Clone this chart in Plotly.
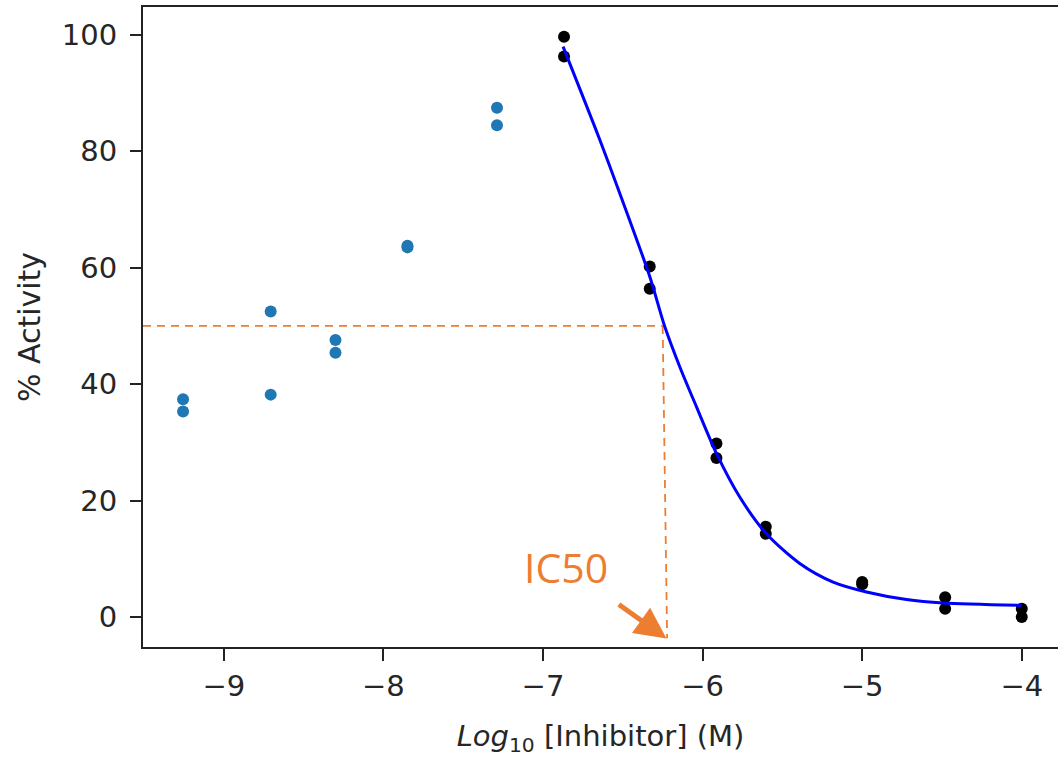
import plotly.graph_objects as go

# ---- data ----
inactive_x = [-9.255, -9.255, -8.706, -8.706, -8.30, -8.30, -7.849, -7.849, -7.288, -7.288]
inactive_y = [37.4, 35.3, 52.5, 38.2, 47.6, 45.4, 63.5, 63.8, 87.5, 84.5]

active_x = [-6.868, -6.868, -6.331, -6.331, -5.913, -5.913, -5.604, -5.604,
            -5.0, -5.0, -4.48, -4.48, -4.0, -4.0]
active_y = [99.7, 96.3, 60.2, 56.4, 29.8, 27.3, 15.5, 14.3,
            6.0, 5.6, 3.4, 1.4, 1.4, 0.0]

fit_x = [-6.874, -6.644, -6.519, -6.331, -6.237, -6.143, -6.038, -5.913, -5.767,
         -5.600, -5.391, -5.182, -4.973, -4.722, -4.493, -4.0]
fit_y = [98.0, 82.0, 72.8, 58.5, 49.9, 43.0, 36.1, 28.1, 20.6,
         14.3, 9.2, 6.0, 4.3, 3.0, 2.4, 2.0]

half_activity = 50
ic50_top_x = -6.25
ic50_bottom_x = -6.222
ic50_bottom_y = -3.66

label_x, label_y = -6.855, 8.6
arrow_tip_x, arrow_tip_y = -6.226, -3.7

x_range = [-9.506, -3.773]
y_range = [-5.16, 104.8]
x_ticks = [-9, -8, -7, -6, -5, -4]
y_ticks = [0, 20, 40, 60, 80, 100]

orange = "#ED7D31"

fig = go.Figure()

# dashed guide lines
fig.add_trace(go.Scatter(x=[x_range[0], ic50_top_x], y=[half_activity, half_activity],
                         mode="lines", line=dict(color=orange, width=1.8, dash="8px,6px"),
                         hoverinfo="skip", showlegend=False))
fig.add_trace(go.Scatter(x=[ic50_top_x, ic50_bottom_x], y=[half_activity, ic50_bottom_y],
                         mode="lines", line=dict(color=orange, width=1.8, dash="8px,6px"),
                         hoverinfo="skip", showlegend=False, cliponaxis=False))

fig.add_trace(go.Scatter(x=inactive_x, y=inactive_y, mode="markers",
                         marker=dict(color="#1f77b4", size=12), showlegend=False))
fig.add_trace(go.Scatter(x=active_x, y=active_y, mode="markers",
                         marker=dict(color="black", size=12), showlegend=False))
fig.add_trace(go.Scatter(x=fit_x, y=fit_y, mode="lines",
                         line=dict(color="blue", width=3, shape="spline", smoothing=0.8),
                         showlegend=False))

# IC50 label with arrow pointing at the IC50 on the x axis
fig.add_annotation(x=arrow_tip_x, y=arrow_tip_y, ax=label_x, ay=label_y,
                   xref="x", yref="y", axref="x", ayref="y",
                   text="IC50", showarrow=True,
                   font=dict(family="Open Sans", size=41, color=orange),
                   arrowhead=2, arrowsize=1.25, arrowwidth=5, arrowcolor=orange,
                   standoff=0, startstandoff=14)

axis_font = dict(family="DejaVu Sans", size=29, color="#262626")

fig.update_layout(
    width=1058, height=757,
    margin=dict(l=143, r=0, t=7, b=110),
    paper_bgcolor="white", plot_bgcolor="white",
    showlegend=False,
    xaxis=dict(range=x_range, tickvals=x_ticks, ticks="outside", ticklen=12, tickwidth=2,
               tickcolor="#222", showline=True, linecolor="#222", linewidth=2, mirror=True,
               showgrid=False, zeroline=False, tickfont=axis_font,
               title=dict(text="<i>Log</i><sub>10</sub> [Inhibitor] (M)",
                          font=dict(family="DejaVu Sans", size=29, color="#262626"),
                          standoff=24)),
    yaxis=dict(range=y_range, tickvals=y_ticks, ticks="outside", ticklen=11, tickwidth=2,
               tickcolor="#222", showline=True, linecolor="#222", linewidth=2, mirror=False,
               showgrid=False, zeroline=False, tickfont=axis_font, ticklabelstandoff=7,
               title=dict(text="% Activity",
                          font=dict(family="DejaVu Sans", size=30, color="#262626"),
                          standoff=12)),
)

fig.write_html("out.html")
